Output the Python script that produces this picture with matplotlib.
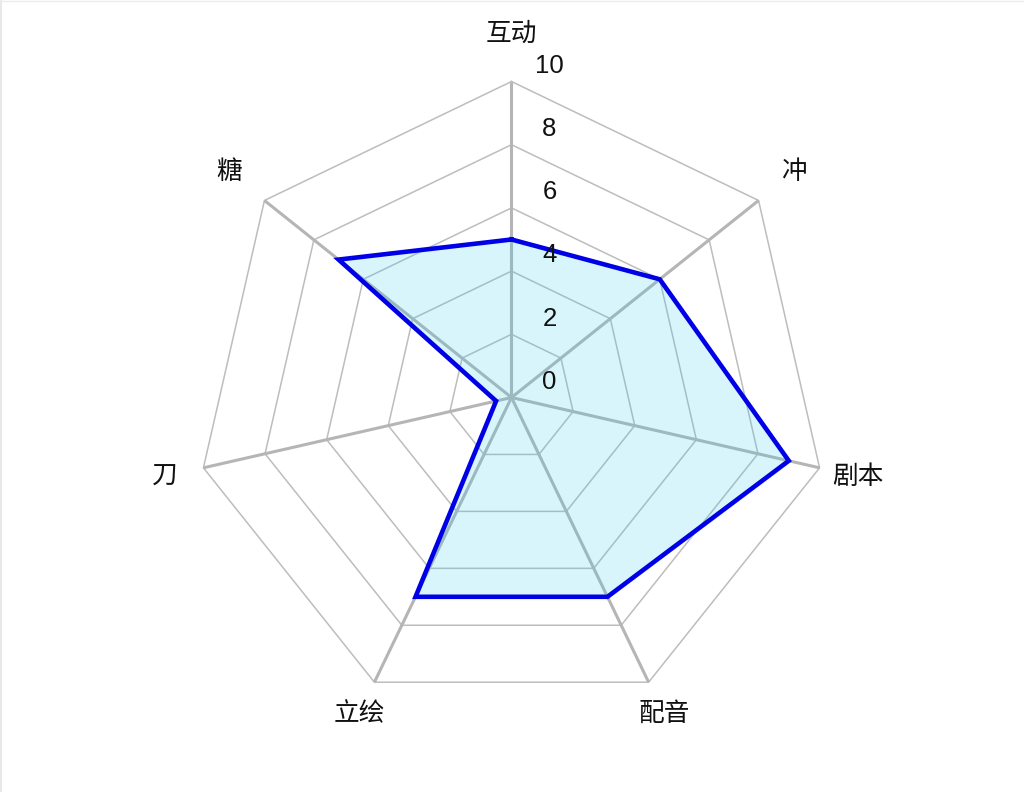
import matplotlib
matplotlib.use("Agg")
import matplotlib.pyplot as plt
from matplotlib.lines import Line2D
import numpy as np

plt.rcParams['font.family'] = ['Noto Sans CJK SC', 'DejaVu Sans']

categories = ["互动", "冲", "剧本", "配音", "立绘", "刀", "糖"]
scores = [5, 6, 9, 7, 7, 0.5, 7]
ring_values = [2, 4, 6, 8, 10]
tick_values = [0, 2, 4, 6, 8, 10]
r_max = 10

n = len(categories)
angles = np.arange(n) * 2 * np.pi / n  # clockwise, starting at the top


def to_xy(r, a):
    r = np.asarray(r, dtype=float)
    return r * np.sin(a), r * np.cos(a)


fig = plt.figure(figsize=(10.24, 7.92), dpi=100)
ax = fig.add_axes([0, 0, 1, 1])
scale = 31.6  # pixels per unit
cx, cy = 511.5, 397.5
ax.set_xlim(-cx / scale, (1024 - cx) / scale)
ax.set_ylim(-(792 - cy) / scale, cy / scale)
ax.axis('off')

# grid rings
closed = np.append(angles, angles[0])
for rv in ring_values:
    x, y = to_xy(np.full(len(closed), rv), closed)
    ax.plot(x, y, color='#bdbdbd', lw=1.1, zorder=1)

# spokes
for a in angles:
    x, y = to_xy([0, r_max], a)
    ax.plot(x, y, color='#b5b5b5', lw=2.2, zorder=2, solid_capstyle='butt')

# data
vals = np.append(scores, scores[0])
x, y = to_xy(vals, closed)
ax.fill(x, y, color=(0.18, 0.80, 0.92, 0.19), lw=0, zorder=3)
ax.plot(x, y, color='#0000e6', lw=3.3, zorder=4, solid_joinstyle='miter')

# tick labels along the top axis
for tv in tick_values:
    ax.text(1.2, tv + 0.5, str(tv), ha='center', va='center', fontsize=18.5,
            family=['Liberation Sans', 'DejaVu Sans'], color='#111111', zorder=5)

# category labels
for lab, a in zip(categories, angles):
    lx, ly = to_xy(11.3 + 0.2 * np.cos(a), a)
    ax.text(lx, ly, lab, ha='center', va='center', fontsize=18.5, color='#111111', zorder=5)

# faint frame on left and top edges
fig.add_artist(Line2D([0.0012, 0.0012], [0, 1], transform=fig.transFigure, color='#e4e4e4', lw=1.2))
fig.add_artist(Line2D([0, 1], [0.9985, 0.9985], transform=fig.transFigure, color='#ececec', lw=1.0))

fig.savefig('out.png', dpi=100, facecolor='white')
